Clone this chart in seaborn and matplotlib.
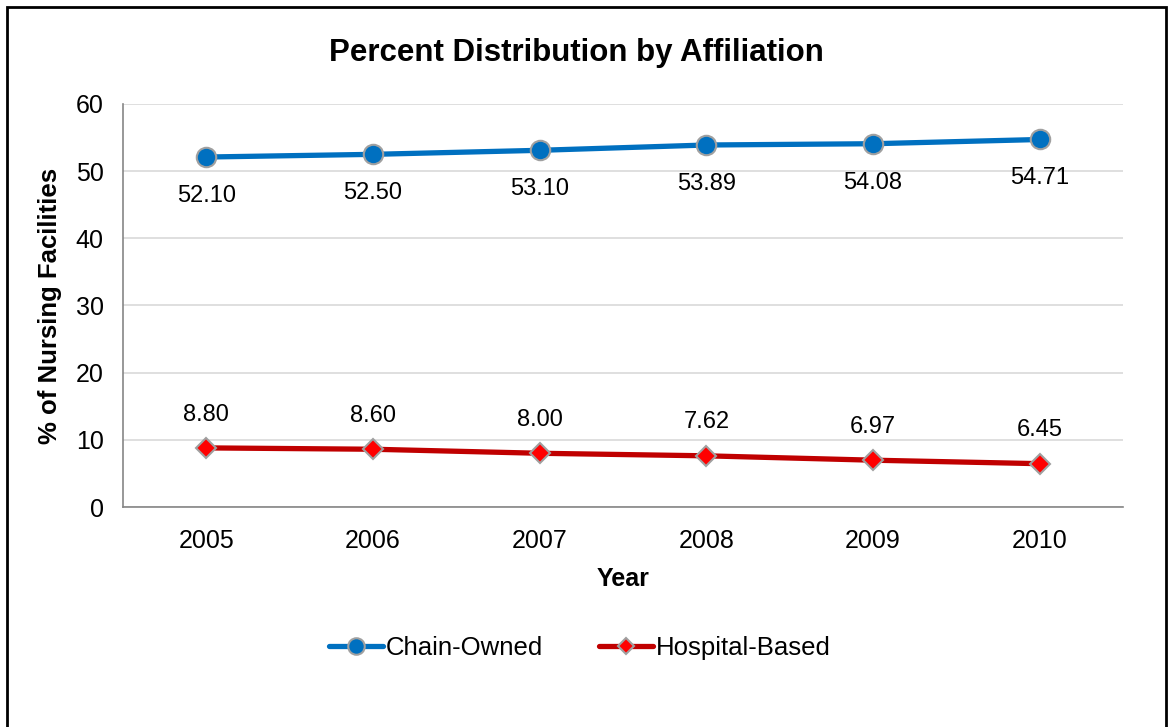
import pandas as pd
import numpy as np
import matplotlib.pyplot as plt
import seaborn as sns
from matplotlib.lines import Line2D
from matplotlib.patches import Rectangle

sns.set_theme(style="white")
plt.rcParams['font.family'] = ['Liberation Sans', 'DejaVu Sans']
plt.rcParams['text.color'] = 'black'
plt.rcParams['axes.labelcolor'] = 'black'

years = [2005, 2006, 2007, 2008, 2009, 2010]
chain_owned = [52.10, 52.50, 53.10, 53.89, 54.08, 54.71]
hospital_based = [8.80, 8.60, 8.00, 7.62, 6.97, 6.45]
series_names = ['Chain-Owned', 'Hospital-Based']

df = pd.DataFrame({
    'Year': years * 2,
    'Percent': chain_owned + hospital_based,
    'Affiliation': [series_names[0]] * len(years) + [series_names[1]] * len(years),
})

line_colors = {'Chain-Owned': '#0070C0', 'Hospital-Based': '#C00000'}
marker_faces = {'Chain-Owned': '#0070C0', 'Hospital-Based': '#FF0000'}
marker_styles = {'Chain-Owned': 'o', 'Hospital-Based': 'D'}
marker_sizes = {'Chain-Owned': 14, 'Hospital-Based': 10}

fig = plt.figure(figsize=(11.68, 7.27), dpi=100)
ax = fig.add_axes([0.1053, 0.3026, 0.8562, 0.5544])

for name in series_names:
    sub = df[df['Affiliation'] == name]
    sns.lineplot(data=sub, x='Year', y='Percent', ax=ax, color=line_colors[name],
                 linewidth=3.8, marker=marker_styles[name], markersize=marker_sizes[name],
                 markerfacecolor=marker_faces[name], markeredgecolor='#A0A0A0',
                 markeredgewidth=1.5, legend=False, zorder=3)

# data labels
for x, y in zip(years, chain_owned):
    ax.annotate(f'{y:.2f}', (x, y), xytext=(0, -28), textcoords='offset points',
                ha='center', va='center', fontsize=17, color='black')
for x, y in zip(years, hospital_based):
    ax.annotate(f'{y:.2f}', (x, y), xytext=(0, 24), textcoords='offset points',
                ha='center', va='center', fontsize=17, color='black')

ax.set_xlim(years[0] - 0.5, years[-1] + 0.5)
ax.set_ylim(0, 60)
ax.set_yticks(range(0, 61, 10))
ax.set_xticks(years)
ax.set_xticks([y - 0.5 for y in years] + [years[-1] + 0.5], minor=True)
ax.tick_params(axis='x', which='major', length=0, labelsize=18, pad=16, labelcolor='black')
ax.tick_params(axis='x', which='minor', length=6, width=1.2, color='#868686', direction='out')
ax.tick_params(axis='y', which='major', length=6, width=1.2, color='#868686', direction='out',
               labelsize=18, pad=8, labelcolor='black')
ax.yaxis.grid(True, color='#D9D9D9', linewidth=1.2)
ax.set_axisbelow(True)
for side in ['top', 'right']:
    ax.spines[side].set_visible(False)
for side in ['left', 'bottom']:
    ax.spines[side].set_color('#868686')
    ax.spines[side].set_linewidth(1.2)

ax.set_xlabel('Year', fontsize=18, fontweight='bold', labelpad=10)
ax.set_ylabel('% of Nursing Facilities', fontsize=18.5, fontweight='bold', labelpad=10)
fig.text(0.4936, 0.927, 'Percent Distribution by Affiliation', ha='center', va='center',
         fontsize=22.5, fontweight='bold')

handles = [Line2D([], [], color=line_colors[n], linewidth=3.8, marker=marker_styles[n],
                  markersize=marker_sizes[n] * 0.85, markerfacecolor=marker_faces[n],
                  markeredgecolor='#A0A0A0', markeredgewidth=1.5) for n in series_names]
fig.legend(handles, series_names, loc='center', bbox_to_anchor=(0.4966, 0.109), ncol=2,
           frameon=False, fontsize=18.5, handlelength=2.1, handletextpad=0.1,
           columnspacing=2.2)

fig.patches.append(Rectangle((7 / 1168, -0.01), (1166 - 7) / 1168, 1 - 7 / 727 + 0.01,
                             transform=fig.transFigure, fill=False, edgecolor='black',
                             linewidth=2))

fig.savefig('out.png', dpi=100)
